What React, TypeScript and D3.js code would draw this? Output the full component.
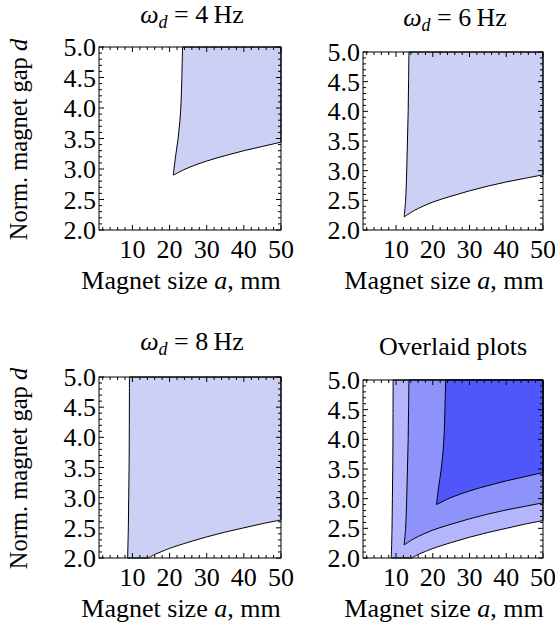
import React from "react";
import * as d3 from "d3";

// ---- data ----
const xTicks = [10, 20, 30, 40, 50];
const yTicks = [2.0, 2.5, 3.0, 3.5, 4.0, 4.5, 5.0];
const xDomain = [1, 50];
const yDomain = [2, 5];

// left boundary (top -> corner), [a, d]
const left4 = [[23.5, 5.0], [23.3, 4.5], [23.1, 4.1], [22.8, 3.8], [22.3, 3.5], [21.6, 3.2], [21.0, 2.9]];
// lower boundary (corner -> right edge)
const bottom4 = [[21.0, 2.9], [25, 3.02], [30, 3.13], [35, 3.22], [40, 3.3], [45, 3.37], [50, 3.44]];

const left6 = [[13.5, 5.0], [13.4, 4.5], [13.3, 4.0], [13.1, 3.5], [12.9, 3.0], [12.6, 2.5], [12.2, 2.22]];
const bottom6 = [[12.2, 2.22], [15, 2.33], [20, 2.47], [25, 2.57], [30, 2.66], [35, 2.74], [40, 2.81], [45, 2.87], [50, 2.93]];

const left8 = [[9.2, 5.0], [9.15, 4.0], [9.1, 3.5], [9.0, 3.0], [8.9, 2.5], [8.7, 2.0]];
const bottom8 = [[14.3, 2.0], [16, 2.06], [18, 2.11], [20, 2.16], [25, 2.26], [30, 2.35], [35, 2.43], [40, 2.5], [45, 2.57], [50, 2.63]];

type Pt = number[];
type Region = { left: Pt[]; bottom: Pt[] };
const regions: Record<string, Region> = {
  "4": { left: left4, bottom: bottom4 },
  "6": { left: left6, bottom: bottom6 },
  "8": { left: left8, bottom: bottom8 },
};

const FONT = "'Liberation Serif', 'Times New Roman', serif";
const SINGLE_FILL = "#cbd0f4";
const OVERLAY_FILL: Record<string, string> = { "8": "#b3b6fd", "6": "#8e92fb", "4": "#5057fa" };

type PanelCfg = {
  x0: number; x1: number; y0: number; y1: number;
  kind: string; // "4" | "6" | "8" | "overlay"
  titleY: number;
  yLabel: boolean;
};

const panels: PanelCfg[] = [
  { x0: 99, x1: 281, y0: 47, y1: 230, kind: "4", titleY: 23, yLabel: true },
  { x0: 363, x1: 543, y0: 52, y1: 230, kind: "6", titleY: 26, yLabel: false },
  { x0: 99, x1: 281, y0: 377, y1: 558, kind: "8", titleY: 350, yLabel: true },
  { x0: 363, x1: 543, y0: 380, y1: 558, kind: "overlay", titleY: 355, yLabel: false },
];

function regionPath(r: Region, x: d3.ScaleLinear<number, number>, y: d3.ScaleLinear<number, number>) {
  const line = d3
    .line<Pt>()
    .x((p) => x(p[0]))
    .y((p) => y(p[1]))
    .curve(d3.curveCatmullRom.alpha(0.5));
  const lp = line(r.left) || "";
  let bp = line(r.bottom) || "";
  bp = "L" + bp.slice(1);
  const last = r.bottom[r.bottom.length - 1];
  return lp + bp + `L${x(last[0])},${y(5)}Z`;
}

function Panel({ cfg }: { cfg: PanelCfg }) {
  const x = d3.scaleLinear().domain(xDomain).range([cfg.x0, cfg.x1]);
  const y = d3.scaleLinear().domain(yDomain).range([cfg.y1, cfg.y0]);
  const cx = (cfg.x0 + cfg.x1) / 2;
  const cy = (cfg.y0 + cfg.y1) / 2;

  const xMinor = d3.range(2, 50.001, 2).filter((v) => v % 10 !== 0);
  const yMinor = d3.range(20, 50.001, 1).map((v) => v / 10).filter((v) => Math.round(v * 10) % 5 !== 0);
  const MAJ = 5, MIN = 3;

  const fills =
    cfg.kind === "overlay"
      ? ["8", "6", "4"].map((k) => ({ k, fill: OVERLAY_FILL[k] }))
      : [{ k: cfg.kind, fill: SINGLE_FILL }];

  return (
    <g>
      <rect x={cfg.x0} y={cfg.y0} width={cfg.x1 - cfg.x0} height={cfg.y1 - cfg.y0} fill="#fff" />
      {fills.map(({ k, fill }) => (
        <path key={k} d={regionPath(regions[k], x, y)} fill={fill} stroke="#000" strokeWidth={1} strokeLinejoin="round" />
      ))}
      {/* ticks */}
      <g stroke="#000" strokeWidth={1}>
        {xTicks.map((v) => (
          <g key={"xM" + v}>
            <line x1={x(v)} x2={x(v)} y1={cfg.y1} y2={cfg.y1 - MAJ} />
            <line x1={x(v)} x2={x(v)} y1={cfg.y0} y2={cfg.y0 + MAJ} />
          </g>
        ))}
        {xMinor.map((v) => (
          <g key={"xm" + v}>
            <line x1={x(v)} x2={x(v)} y1={cfg.y1} y2={cfg.y1 - MIN} />
            <line x1={x(v)} x2={x(v)} y1={cfg.y0} y2={cfg.y0 + MIN} />
          </g>
        ))}
        {yTicks.map((v) => (
          <g key={"yM" + v}>
            <line x1={cfg.x0} x2={cfg.x0 + MAJ} y1={y(v)} y2={y(v)} />
            <line x1={cfg.x1} x2={cfg.x1 - MAJ} y1={y(v)} y2={y(v)} />
          </g>
        ))}
        {yMinor.map((v) => (
          <g key={"ym" + v}>
            <line x1={cfg.x0} x2={cfg.x0 + MIN} y1={y(v)} y2={y(v)} />
            <line x1={cfg.x1} x2={cfg.x1 - MIN} y1={y(v)} y2={y(v)} />
          </g>
        ))}
      </g>
      <rect x={cfg.x0} y={cfg.y0} width={cfg.x1 - cfg.x0} height={cfg.y1 - cfg.y0} fill="none" stroke="#000" strokeWidth={1} />
      {/* tick labels */}
      <g fontFamily={FONT} fontSize={26} fill="#000">
        {xTicks.map((v) => (
          <text key={"xl" + v} x={x(v)} y={cfg.y1 + 28} textAnchor="middle">{v}</text>
        ))}
        {yTicks.map((v) => (
          <text key={"yl" + v} x={cfg.x0 - 3} y={y(v) + 9} textAnchor="end">{v.toFixed(1)}</text>
        ))}
      </g>
      {/* axis labels */}
      <text x={cx - 9} y={cfg.y1 + 59} textAnchor="middle" fontFamily={FONT} fontSize={26}>
        Magnet size <tspan fontStyle="italic">a</tspan>, mm
      </text>
      {cfg.yLabel && (
        <text transform={`translate(27,${cy + 1}) rotate(-90)`} textAnchor="middle" fontFamily={FONT} fontSize={24.5}>
          Norm. magnet gap <tspan fontStyle="italic">d</tspan>
        </text>
      )}
      {/* title */}
      {cfg.kind === "overlay" ? (
        <text x={cx} y={cfg.titleY} textAnchor="middle" fontFamily={FONT} fontSize={26}>Overlaid plots</text>
      ) : (
        <text x={cx + 2} y={cfg.titleY} textAnchor="middle" fontFamily={FONT} fontSize={26}>
          <tspan fontStyle="italic">ω</tspan>
          <tspan fontStyle="italic" fontSize={18} dy={5}>d</tspan>
          <tspan dy={-5}>{" = " + cfg.kind + "\u2009Hz"}</tspan>
        </text>
      )}
    </g>
  );
}

export default function App() {
  return (
    <svg width={555} height={635} style={{ position: "absolute", left: 0, top: 0, background: "#fff" }}>
      <rect width={555} height={635} fill="#fff" />
      {panels.map((p, i) => (
        <Panel key={i} cfg={p} />
      ))}
    </svg>
  );
}
